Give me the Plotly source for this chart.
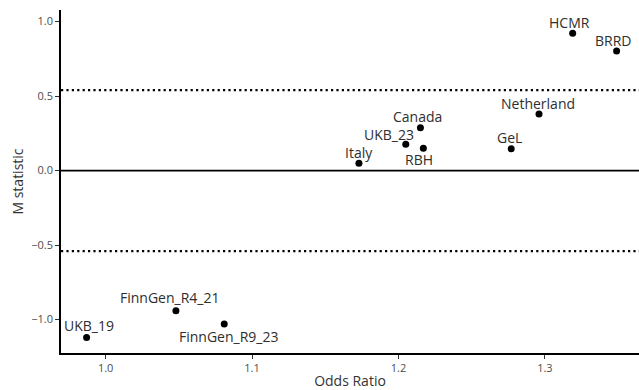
import plotly.graph_objects as go

# Cohort estimates: odds ratio vs. M statistic
cohorts = ["UKB_19", "FinnGen_R4_21", "FinnGen_R9_23", "Italy", "UKB_23", "Canada",
           "RBH", "GeL", "Netherland", "HCMR", "BRRD"]
odds_ratio = [0.987, 1.048, 1.081, 1.173, 1.205, 1.215, 1.217, 1.277, 1.296, 1.319, 1.349]
m_statistic = [-1.12, -0.94, -1.03, 0.05, 0.177, 0.287, 0.150, 0.146, 0.380, 0.922, 0.803]

# Heterogeneity thresholds drawn as dotted reference lines
thresholds = [0.54, -0.54]

x_ticks = [1.0, 1.1, 1.2, 1.3]
y_ticks = [-1.0, -0.5, 0.0, 0.5, 1.0]

# Label placement offsets in pixels (dx, dy), repel-style
label_offsets = {
    "UKB_19": (2, 12), "FinnGen_R4_21": (-6, 13), "FinnGen_R9_23": (4, -12),
    "Italy": (0, 11), "UKB_23": (-17, 10), "Canada": (-3, 11), "RBH": (-4, -11),
    "GeL": (-2, 11), "Netherland": (-1, 11), "HCMR": (-3, 11), "BRRD": (-4, 10),
}

FONT = "Open Sans"

fig = go.Figure()
fig.add_trace(go.Scatter(
    x=odds_ratio, y=m_statistic, mode="markers",
    marker=dict(color="black", size=7), hoverinfo="text", text=cohorts,
    showlegend=False,
))

for t in thresholds:
    fig.add_hline(y=t, line=dict(color="black", width=2.2, dash="2.2px,3.2px"))
fig.add_hline(y=0, line=dict(color="black", width=1.6))

for name, x, y in zip(cohorts, odds_ratio, m_statistic):
    dx, dy = label_offsets[name]
    fig.add_annotation(x=x, y=y, text=name, showarrow=False,
                       xshift=dx, yshift=dy,
                       font=dict(family=FONT, size=14, color="#2e2e2e"))

axis_common = dict(
    showgrid=False, zeroline=False, showline=True, linecolor="black", linewidth=1.5,
    ticks="outside", ticklen=4, tickwidth=1.2, tickcolor="#333333",
    tickfont=dict(family=FONT, size=11, color="#4d4d4d"),
)

fig.update_layout(
    width=639, height=390,
    margin=dict(l=61, r=0, t=10, b=37),
    plot_bgcolor="white", paper_bgcolor="white",
    xaxis=dict(range=[0.9695, 1.3643], tickvals=x_ticks,
               ticktext=[f"{v:.1f}" for v in x_ticks],
               title=dict(text="Odds Ratio", font=dict(family=FONT, size=14, color="#333333"),
                          standoff=3),
               **axis_common),
    yaxis=dict(range=[-1.224, 1.078], tickvals=y_ticks,
               ticktext=[f"{v:.1f}".replace("-", "\u2212") for v in y_ticks],
               title=dict(text="M statistic", font=dict(family=FONT, size=14, color="#333333"),
                          standoff=4),
               **axis_common),
)

fig.write_html("out.html")
